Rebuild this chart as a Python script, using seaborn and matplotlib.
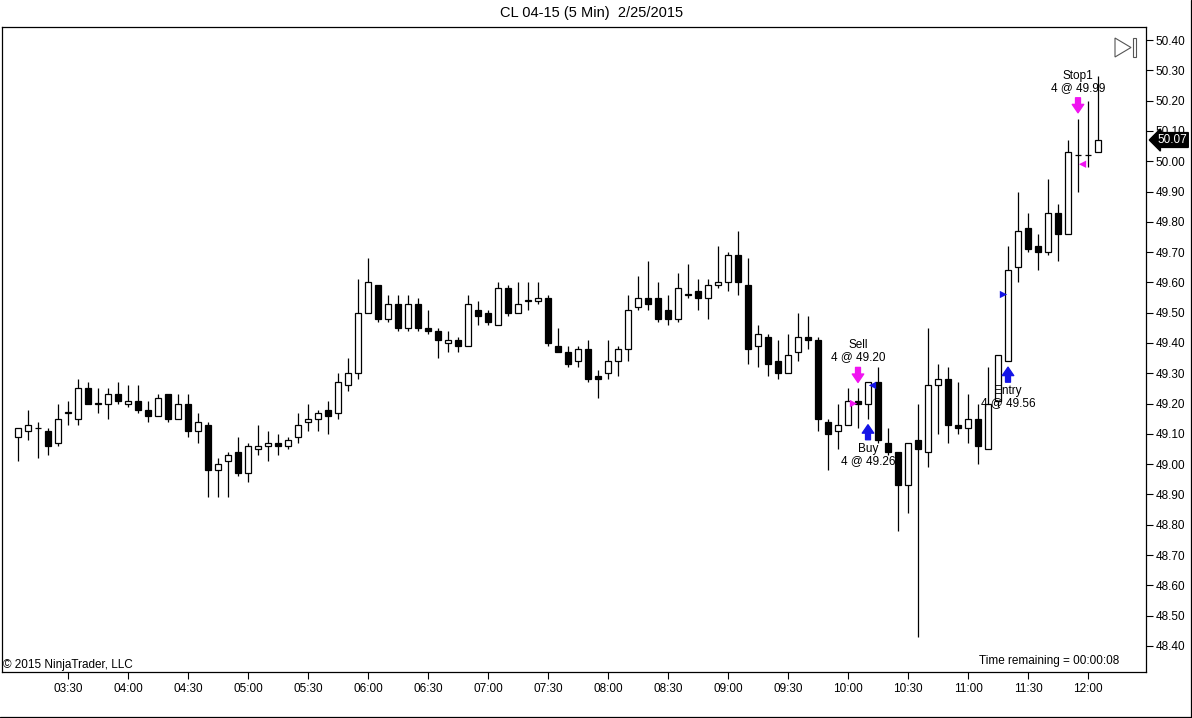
import numpy as np
import pandas as pd
import matplotlib
matplotlib.use('Agg')
import matplotlib.pyplot as plt
import seaborn as sns
from matplotlib.patches import Polygon, Rectangle
from matplotlib.lines import Line2D

# CL 04-15, 5 minute bars, 2/25/2015, first bar 03:05
start_time = '2015-02-25 03:05'
bar_open = [49.09, 49.11, 49.12, 49.11, 49.07, 49.17, 49.15, 49.25, 49.20, 49.20,
            49.23, 49.20, 49.21, 49.18, 49.16, 49.23, 49.15, 49.20, 49.11, 49.13,
            48.98, 49.01, 49.04, 48.97, 49.05, 49.06, 49.07, 49.06, 49.09, 49.14,
            49.15, 49.18, 49.17, 49.26, 49.30, 49.50, 49.59, 49.48, 49.53, 49.45,
            49.53, 49.45, 49.44, 49.40, 49.41, 49.39, 49.51, 49.50, 49.46, 49.58,
            49.50, 49.54, 49.54, 49.55, 49.39, 49.37, 49.34, 49.38, 49.29, 49.30,
            49.34, 49.38, 49.52, 49.55, 49.55, 49.51, 49.48, 49.56, 49.57, 49.55,
            49.59, 49.60, 49.69, 49.59, 49.39, 49.42, 49.34, 49.30, 49.37, 49.42,
            49.41, 49.14, 49.11, 49.13, 49.21, 49.20, 49.27, 49.07, 49.04, 48.93,
            49.08, 49.04, 49.26, 49.28, 49.13, 49.12, 49.15, 49.05, 49.21, 49.34,
            49.65, 49.78, 49.72, 49.70, 49.83, 49.76, 50.02, 50.02, 50.03]
bar_high = [49.12, 49.18, 49.14, 49.12, 49.20, 49.21, 49.28, 49.27, 49.25, 49.25,
            49.27, 49.26, 49.26, 49.21, 49.23, 49.23, 49.23, 49.23, 49.17, 49.14,
            49.02, 49.04, 49.09, 49.07, 49.13, 49.11, 49.10, 49.09, 49.17, 49.20,
            49.18, 49.21, 49.30, 49.35, 49.61, 49.68, 49.59, 49.56, 49.56, 49.56,
            49.55, 49.51, 49.45, 49.44, 49.42, 49.56, 49.54, 49.51, 49.60, 49.59,
            49.60, 49.60, 49.60, 49.56, 49.45, 49.39, 49.39, 49.41, 49.31, 49.41,
            49.39, 49.56, 49.62, 49.67, 49.60, 49.56, 49.63, 49.66, 49.61, 49.61,
            49.72, 49.70, 49.77, 49.68, 49.46, 49.43, 49.41, 49.43, 49.50, 49.49,
            49.42, 49.15, 49.20, 49.25, 49.25, 49.27, 49.32, 49.12, 49.04, 49.07,
            49.20, 49.45, 49.33, 49.32, 49.27, 49.23, 49.20, 49.32, 49.36, 49.72,
            49.90, 49.83, 49.76, 49.94, 49.86, 50.07, 50.14, 50.20, 50.28]
bar_low = [49.01, 49.08, 49.02, 49.03, 49.06, 49.13, 49.13, 49.20, 49.17, 49.15,
           49.20, 49.19, 49.17, 49.14, 49.16, 49.14, 49.15, 49.09, 49.07, 48.89,
           48.89, 48.89, 48.96, 48.94, 49.03, 49.01, 49.03, 49.05, 49.07, 49.11,
           49.11, 49.10, 49.15, 49.24, 49.28, 49.50, 49.47, 49.47, 49.44, 49.44,
           49.44, 49.43, 49.35, 49.37, 49.37, 49.39, 49.46, 49.46, 49.46, 49.49,
           49.50, 49.51, 49.53, 49.39, 49.37, 49.32, 49.32, 49.27, 49.22, 49.28,
           49.29, 49.34, 49.51, 49.51, 49.47, 49.46, 49.47, 49.55, 49.51, 49.48,
           49.58, 49.57, 49.56, 49.33, 49.32, 49.29, 49.28, 49.30, 49.34, 49.38,
           49.11, 48.98, 49.05, 49.13, 49.12, 49.15, 49.07, 49.03, 48.78, 48.84,
           48.43, 48.99, 49.10, 49.07, 49.10, 49.07, 49.00, 49.05, 49.19, 49.34,
           49.60, 49.70, 49.64, 49.69, 49.67, 49.76, 49.90, 49.98, 50.03]
bar_close = [49.12, 49.13, 49.12, 49.06, 49.15, 49.17, 49.25, 49.20, 49.20, 49.23,
             49.21, 49.21, 49.18, 49.16, 49.22, 49.15, 49.20, 49.11, 49.14, 48.98,
             49.00, 49.03, 48.97, 49.06, 49.06, 49.07, 49.06, 49.08, 49.13, 49.15,
             49.17, 49.16, 49.27, 49.30, 49.50, 49.60, 49.48, 49.53, 49.45, 49.53,
             49.45, 49.44, 49.41, 49.41, 49.39, 49.53, 49.49, 49.47, 49.58, 49.50,
             49.53, 49.54, 49.55, 49.40, 49.37, 49.33, 49.38, 49.28, 49.28, 49.34,
             49.38, 49.51, 49.55, 49.53, 49.48, 49.48, 49.58, 49.56, 49.55, 49.59,
             49.60, 49.69, 49.60, 49.38, 49.43, 49.33, 49.30, 49.36, 49.42, 49.41,
             49.15, 49.10, 49.13, 49.21, 49.20, 49.27, 49.08, 49.04, 48.93, 49.07,
             49.05, 49.26, 49.28, 49.13, 49.12, 49.15, 49.06, 49.20, 49.36, 49.64,
             49.77, 49.71, 49.70, 49.83, 49.76, 50.03, 50.02, 50.02, 50.07]

# executions
exec_bar = [84, 85, 99, 106]
exec_price = [49.20, 49.26, 49.56, 49.99]
exec_qty = [4, 4, 4, 4]
exec_name = ['Sell', 'Buy', 'Entry', 'Stop1']
exec_side = ['sell', 'buy', 'buy', 'sell']
exec_kind = ['entry', 'exit', 'entry', 'exit']

price_ticks = np.round(np.arange(48.40, 50.41, 0.10), 2)

df = pd.DataFrame({'time': pd.date_range(start_time, periods=len(bar_open), freq='5min'),
                   'open': bar_open, 'high': bar_high, 'low': bar_low, 'close': bar_close})
df['pos'] = np.arange(len(df))
df['bottom'] = df[['open', 'close']].min(axis=1)
df['height'] = (df['close'] - df['open']).abs().clip(lower=0.001)
df['fill'] = np.where(df['close'] >= df['open'], 'white', 'black')

sns.set_theme(style='white')
plt.rcParams['font.family'] = ['Liberation Sans', 'DejaVu Sans']
plt.rcParams['text.color'] = 'black'
plt.rcParams['axes.labelcolor'] = 'black'
FS = 8.5
PX = 0.72  # points per pixel at dpi 100
BLUE = '#1414e6'
MAGENTA = '#f014f0'

fig = plt.figure(figsize=(11.92, 7.18), dpi=100, facecolor='white')
ax = fig.add_axes([2 / 1192, 46 / 718, 1144 / 1192, 645 / 718])
ax.set_facecolor('white')

ax.vlines(df['pos'], df['low'], df['high'], color='black', linewidth=0.9, zorder=2)
ax.bar(df['pos'], df['height'], bottom=df['bottom'], width=0.62, color=df['fill'],
       edgecolor='black', linewidth=0.9, zorder=3)

# execution triangles
ex = pd.DataFrame({'bar': exec_bar, 'price': exec_price, 'side': exec_side, 'kind': exec_kind})
ex['x'] = ex['bar'] + np.where(ex['kind'] == 'entry', -0.45, 0.45)
sns.scatterplot(data=ex, x='x', y='price', hue='side', style='kind',
                palette={'buy': BLUE, 'sell': MAGENTA}, markers={'entry': '>', 'exit': '<'},
                s=28, linewidth=0, legend=False, ax=ax, zorder=4)

arrow_style = 'simple,head_length=0.55,head_width=0.75,tail_width=0.32'
for b, p, q, name, side in zip(exec_bar, exec_price, exec_qty, exec_name, exec_side):
    if side == 'sell':
        ref, sgn, col = bar_high[b], 1, MAGENTA
    else:
        ref, sgn, col = bar_low[b], -1, BLUE
    ax.annotate('', xy=(b, ref), xytext=(0, sgn * 21 * PX), textcoords='offset points',
                arrowprops=dict(arrowstyle=arrow_style, color=col, mutation_scale=11,
                                shrinkA=0, shrinkB=6 * PX), zorder=5)
    ax.annotate(name, xy=(b, ref), xytext=(0, sgn * (43 if side == 'sell' else 30) * PX),
                textcoords='offset points', ha='center', va='center', fontsize=FS, zorder=6)
    ax.annotate(f'{q} @ {p:.2f}', xy=(b, ref), xytext=(0, sgn * (31 if side == 'sell' else 42) * PX),
                textcoords='offset points', ha='center', va='center', fontsize=FS, zorder=6)

# axes
ax.set_xlabel('')
ax.set_ylabel('')
ax.set_xlim(-1.6, 112.8)
ax.set_ylim(48.314, 50.443)
half_hours = df[df['time'].dt.minute % 30 == 0]
ax.set_xticks(half_hours['pos'])
ax.set_xticklabels(half_hours['time'].dt.strftime('%H:%M'))
ax.yaxis.tick_right()
ax.set_yticks(price_ticks)
ax.set_yticklabels([f'{t:.2f}' for t in price_ticks])
ax.tick_params(axis='both', direction='out', length=5, width=0.8, color='black',
               labelsize=FS, labelcolor='black', pad=2)
ax.tick_params(axis='x', bottom=True, pad=3)
ax.tick_params(axis='y', right=True, left=False)
ax.grid(False)
for s in ax.spines.values():
    s.set_color('black')
    s.set_linewidth(0.9)

# last price tag
last = bar_close[-1]
ax.annotate(f'{last:.2f}', xy=(1.0, last), xycoords=ax.get_yaxis_transform(),
            xytext=(8, 0), textcoords='offset points', ha='left', va='center',
            fontsize=FS, color='white', zorder=10, annotation_clip=False,
            bbox=dict(boxstyle='larrow,pad=0.12', fc='black', ec='black'))

ax.text(0.001, 0.011, '\u00a9 2015 NinjaTrader, LLC', transform=ax.transAxes,
        ha='left', va='center', fontsize=FS)
ax.text(0.977, 0.017, 'Time remaining = 00:00:08', transform=ax.transAxes,
        ha='right', va='center', fontsize=FS)

fig.text(0.496, 1 - 13 / 718, 'CL 04-15 (5 Min)  2/25/2015', ha='center', va='center',
         fontsize=10.5)

# "go to last bar" icon
def fpx(x, y):
    return (x / 1192, 1 - y / 718)

fig.add_artist(Polygon([fpx(1115, 38), fpx(1131, 47.5), fpx(1115, 57)], closed=True,
                       fill=False, ec='#555555', lw=0.8, transform=fig.transFigure))
fig.add_artist(Rectangle(fpx(1132.5, 57), 3.5 / 1192, 19 / 718, fill=False,
                         ec='#555555', lw=0.8, transform=fig.transFigure))

# outer frame
fig.add_artist(Line2D([0, 1190.5 / 1192], [1 - 716.5 / 718] * 2, color='black', lw=0.9,
                      transform=fig.transFigure))
fig.add_artist(Line2D([1190.5 / 1192] * 2, [1 - 716.5 / 718, 1], color='black', lw=0.9,
                      transform=fig.transFigure))

fig.savefig('out.png', dpi=100, facecolor='white')
